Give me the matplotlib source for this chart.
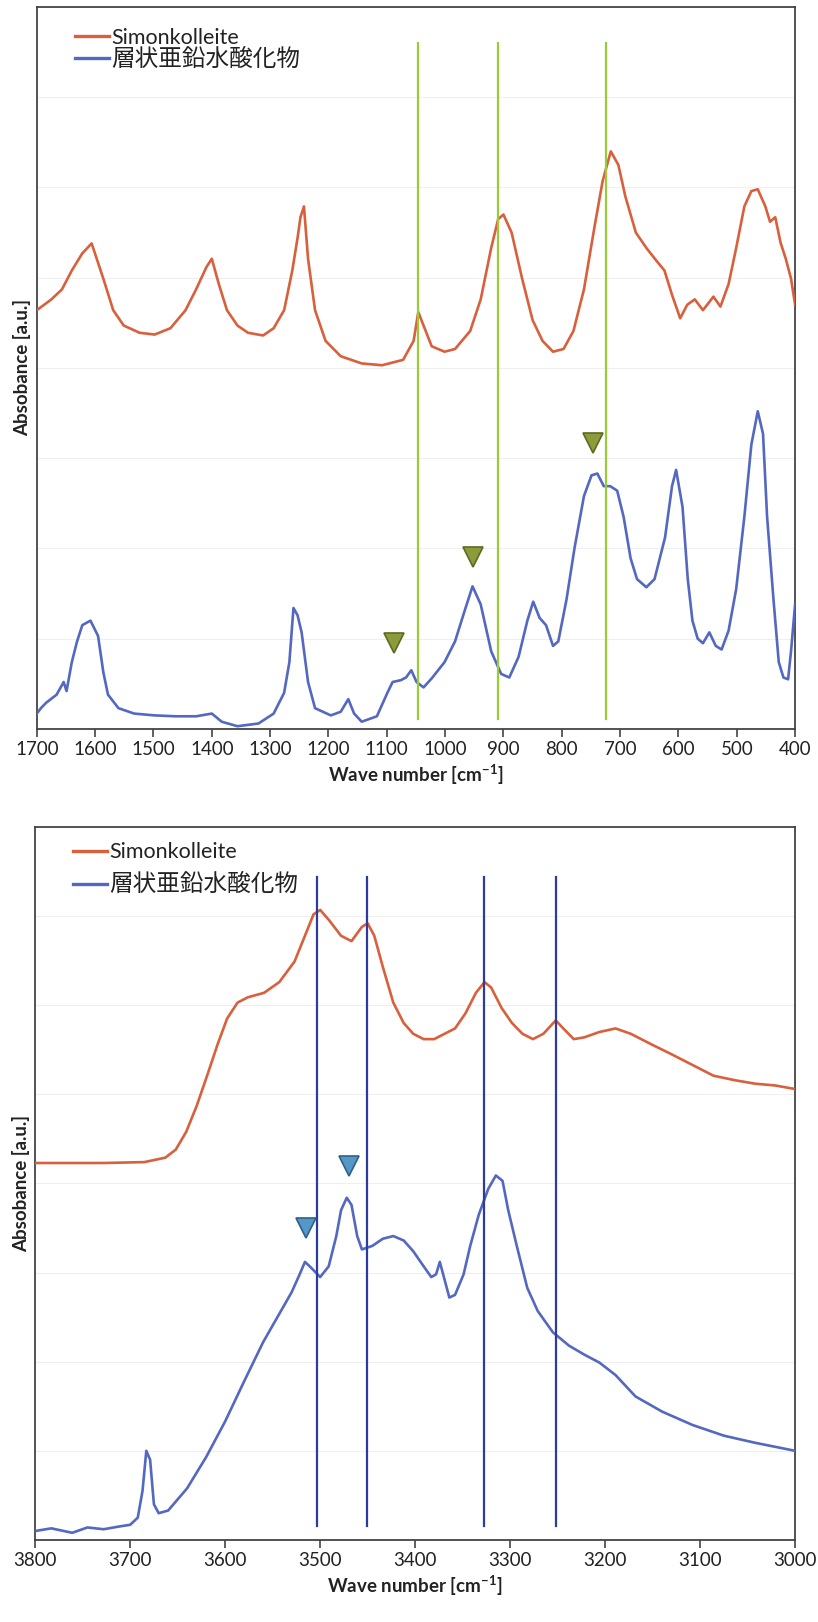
import numpy as np
import matplotlib
matplotlib.use("Agg")
from matplotlib import pyplot as plt

plt.rcParams['font.family'] = ['Lato', 'Noto Sans CJK JP', 'DejaVu Sans']
plt.rcParams['mathtext.default'] = 'regular'

# ---- fingerprint region (1700-400 cm-1) ----
fp_simon_x = [1700, 1675, 1657, 1640, 1622, 1606, 1586, 1569, 1551, 1524, 1498, 1471,
              1445, 1427, 1409, 1400, 1388, 1374, 1356, 1338, 1312, 1294, 1276, 1262,
              1253, 1248, 1242, 1235, 1223, 1205, 1179, 1143, 1108, 1072, 1054, 1046,
              1037, 1023, 1001, 983, 957, 939, 921, 909, 900, 886, 868, 850, 833, 815,
              797, 780, 762, 744, 730, 716, 703, 691, 673, 655, 638, 624, 611, 597,
              585, 572, 558, 540, 528, 514, 501, 487, 475, 464, 451, 443, 434, 425,
              416, 407, 400]
fp_simon_y = [4.64, 4.76, 4.87, 5.08, 5.27, 5.38, 4.99, 4.64, 4.47, 4.39, 4.37, 4.44,
              4.64, 4.87, 5.12, 5.21, 4.93, 4.64, 4.47, 4.39, 4.36, 4.44, 4.64, 5.08,
              5.44, 5.67, 5.79, 5.21, 4.64, 4.30, 4.13, 4.05, 4.03, 4.09, 4.30, 4.62,
              4.47, 4.24, 4.18, 4.21, 4.41, 4.76, 5.33, 5.65, 5.70, 5.50, 4.99, 4.53,
              4.30, 4.18, 4.21, 4.41, 4.87, 5.56, 6.07, 6.40, 6.25, 5.90, 5.50, 5.33,
              5.19, 5.08, 4.81, 4.55, 4.70, 4.76, 4.64, 4.79, 4.68, 4.93, 5.33, 5.79,
              5.96, 5.98, 5.79, 5.62, 5.67, 5.39, 5.21, 4.99, 4.70]

fp_ldh_x = [1700, 1693, 1684, 1666, 1654, 1649, 1640, 1631, 1622, 1608, 1595, 1586,
            1578, 1560, 1533, 1498, 1462, 1427, 1400, 1383, 1356, 1320, 1294, 1276,
            1267, 1260, 1253, 1246, 1235, 1223, 1196, 1179, 1166, 1156, 1143, 1117,
            1099, 1090, 1076, 1067, 1058, 1049, 1037, 1023, 1001, 983, 966, 953, 939,
            921, 904, 890, 874, 859, 849, 838, 827, 815, 806, 792, 778, 762, 749,
            739, 728, 717, 705, 694, 682, 671, 655, 641, 623, 611, 604, 593, 584,
            576, 567, 558, 547, 536, 526, 514, 501, 487, 475, 464, 455, 448, 437,
            428, 420, 412, 407, 400]
fp_ldh_y = [0.17, 0.23, 0.29, 0.38, 0.52, 0.42, 0.74, 0.97, 1.15, 1.20, 1.03, 0.63,
            0.38, 0.23, 0.17, 0.15, 0.14, 0.14, 0.17, 0.08, 0.03, 0.06, 0.17, 0.40,
            0.74, 1.34, 1.26, 1.07, 0.52, 0.23, 0.15, 0.19, 0.33, 0.17, 0.08, 0.14,
            0.40, 0.52, 0.54, 0.57, 0.65, 0.52, 0.46, 0.56, 0.74, 0.97, 1.32, 1.58,
            1.38, 0.86, 0.61, 0.57, 0.80, 1.20, 1.41, 1.23, 1.15, 0.92, 0.97, 1.43,
            2.01, 2.58, 2.81, 2.83, 2.69, 2.69, 2.64, 2.35, 1.89, 1.66, 1.57, 1.66,
            2.12, 2.69, 2.87, 2.46, 1.66, 1.20, 1.00, 0.95, 1.07, 0.92, 0.88, 1.09,
            1.55, 2.35, 3.15, 3.52, 3.27, 2.35, 1.43, 0.74, 0.57, 0.55, 0.86, 1.38]

fp_vlines = [1047, 909, 725]
fp_marks_x = [1088, 953, 746]
fp_marks_y = [0.95, 1.91, 3.17]
fp_ticks = list(range(1700, 399, -100))

# ---- OH stretching region (3800-3000 cm-1) ----
oh_simon_x = [3800, 3772, 3728, 3685, 3663, 3652, 3641, 3630, 3619, 3608, 3598, 3587,
              3576, 3559, 3543, 3527, 3516, 3507, 3500, 3491, 3478, 3467, 3456, 3450,
              3443, 3434, 3423, 3412, 3402, 3391, 3380, 3369, 3358, 3347, 3336, 3327,
              3320, 3309, 3298, 3287, 3276, 3265, 3252, 3244, 3233, 3222, 3206, 3189,
              3173, 3151, 3130, 3108, 3086, 3064, 3042, 3021, 3000]
oh_simon_y = [4.23, 4.23, 4.23, 4.24, 4.29, 4.38, 4.58, 4.87, 5.21, 5.56, 5.85, 6.03,
              6.09, 6.14, 6.26, 6.49, 6.78, 7.02, 7.07, 6.96, 6.78, 6.72, 6.88, 6.92,
              6.78, 6.43, 6.03, 5.80, 5.68, 5.62, 5.62, 5.68, 5.74, 5.91, 6.14, 6.26,
              6.20, 5.97, 5.80, 5.68, 5.62, 5.68, 5.83, 5.74, 5.62, 5.64, 5.70, 5.74,
              5.68, 5.56, 5.45, 5.33, 5.21, 5.16, 5.12, 5.10, 5.06]

oh_ldh_x = [3800, 3783, 3761, 3745, 3728, 3712, 3700, 3692, 3687, 3683, 3679, 3675,
            3670, 3660, 3640, 3620, 3600, 3580, 3560, 3545, 3530, 3522, 3516, 3510,
            3500, 3491, 3483, 3478, 3472, 3467, 3461, 3456, 3445, 3434, 3423, 3412,
            3402, 3391, 3383, 3378, 3374, 3369, 3364, 3358, 3349, 3342, 3333, 3323,
            3315, 3308, 3302, 3293, 3282, 3271, 3255, 3238, 3222, 3206, 3189, 3168,
            3140, 3108, 3075, 3042, 3000]
oh_ldh_y = [0.10, 0.13, 0.08, 0.14, 0.12, 0.15, 0.17, 0.25, 0.55, 1.00, 0.90, 0.40,
            0.30, 0.33, 0.58, 0.93, 1.33, 1.78, 2.22, 2.50, 2.78, 2.97, 3.12, 3.06,
            2.95, 3.07, 3.41, 3.70, 3.84, 3.76, 3.41, 3.26, 3.30, 3.38, 3.41, 3.36,
            3.24, 3.07, 2.95, 2.98, 3.12, 2.92, 2.72, 2.75, 2.98, 3.30, 3.65, 3.94,
            4.09, 4.03, 3.70, 3.30, 2.83, 2.57, 2.33, 2.18, 2.08, 1.99, 1.85, 1.61,
            1.44, 1.29, 1.17, 1.09, 1.00]

oh_vlines = [3503, 3451, 3327, 3252]
oh_marks_x = [3515, 3470]
oh_marks_y = [3.50, 4.20]
oh_ticks = list(range(3800, 2999, -100))

labels = ['Simonkolleite', '層状亜鉛水酸化物']
red = '#d8603c'
blue = '#5468c2'

fig = plt.figure(figsize=(8.18, 16.22), dpi=100)


def panel(rect, xr, ticks, sx, sy, lx, ly, vlines, vcolor, vspan, mx, my, mface, medge,
          legy, legsp):
    ax = fig.add_axes(rect)
    ax.set_xlim(xr)
    ax.set_ylim(0, 8)
    for g in range(1, 8):
        ax.axhline(g, color='#efefef', lw=0.8, zorder=0)
    ax.plot(sx, sy, color=red, lw=1.9, label=labels[0], zorder=3)
    ax.plot(lx, ly, color=blue, lw=1.9, label=labels[1], zorder=3)
    for v in vlines:
        ax.plot([v, v], vspan, color=vcolor, lw=1.6, zorder=4)
    ax.plot(mx, my, 'v', ms=15, mfc=mface, mec=medge, mew=1.2, ls='none', zorder=5)
    ax.set_xticks(ticks)
    ax.set_yticks([])
    ax.tick_params(axis='x', direction='out', length=6, width=1.2, color='#444444',
                   labelsize=13.5, pad=3, labelcolor='#222222')
    for s in ax.spines.values():
        s.set_color('#444444')
        s.set_linewidth(1.3)
    ax.set_xlabel('Wave number [cm$^{-1}$]', fontsize=13.5, fontweight='bold', labelpad=3,
                  color='#222222')
    ax.set_ylabel('Absobance [a.u.]', fontsize=13.5, fontweight='bold', labelpad=4,
                  color='#222222')
    leg = ax.legend(loc='upper left', bbox_to_anchor=(0.03, legy), frameon=False,
                    fontsize=15.5, handlelength=1.6, handletextpad=0.1, labelspacing=legsp,
                    borderpad=0.2)
    leg.get_texts()[1].set_fontsize(17)
    for t in leg.get_texts():
        t.set_color('#222222')
    for line in leg.get_lines():
        line.set_linewidth(2.4)
    return ax


panel([0.045, 0.5506, 0.927, 0.4451], (1700, 400), fp_ticks, fp_simon_x, fp_simon_y,
      fp_ldh_x, fp_ldh_y, fp_vlines, '#9acb3a', (0.11, 7.6), fp_marks_x, fp_marks_y,
      '#8c9c3c', '#5e6a20', 0.992, 0.0)
panel([0.043, 0.0506, 0.929, 0.4395], (3800, 3000), oh_ticks, oh_simon_x, oh_simon_y,
      oh_ldh_x, oh_ldh_y, oh_vlines, '#2c3c9c', (0.16, 7.44), oh_marks_x, oh_marks_y,
      '#5597c6', '#2e6088', 1.0, 0.5)

fig.savefig('out.png', dpi=100)
